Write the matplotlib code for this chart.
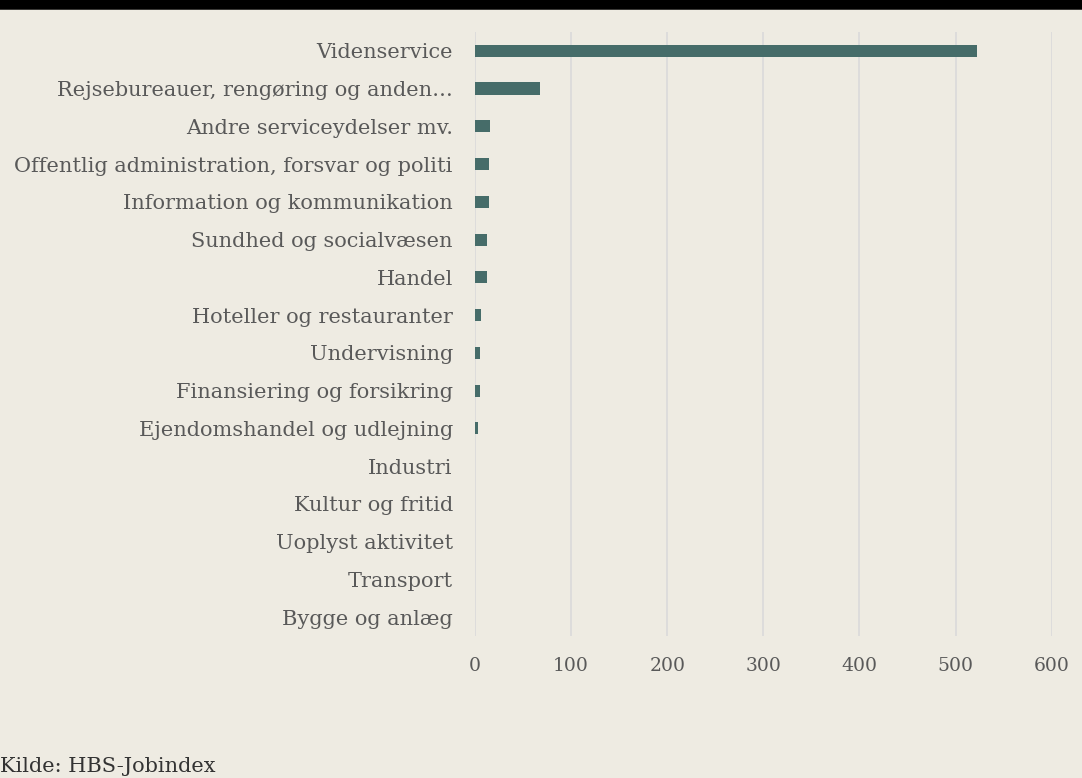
import numpy as np
from matplotlib import pyplot as plt

# data
categories = ["Videnservice",
              "Rejsebureauer, rengøring og anden…",
              "Andre serviceydelser mv.",
              "Offentlig administration, forsvar og politi",
              "Information og kommunikation",
              "Sundhed og socialvæsen",
              "Handel",
              "Hoteller og restauranter",
              "Undervisning",
              "Finansiering og forsikring",
              "Ejendomshandel og udlejning",
              "Industri",
              "Kultur og fritid",
              "Uoplyst aktivitet",
              "Transport",
              "Bygge og anlæg"]
values = [522, 68, 15.5, 14.5, 14.5, 13, 13, 6, 5, 5, 3, 0.4, 0.3, 0.3, 0.3, 0.3]
xticks = [0, 100, 200, 300, 400, 500, 600]

bg = "#EEEBE2"
bar_color = "#466C69"
txt = "#595959"

fig = plt.figure(figsize=(10.82, 7.78), dpi=100, facecolor=bg)
ax = fig.add_axes([0.439, 0.1825, 0.533, 0.7765], facecolor=bg)

y = np.arange(len(categories))
ax.barh(y, values, height=0.32, color=bar_color, zorder=3)
ax.set_ylim(len(categories) - 0.5, -0.5)
ax.set_xlim(0, 600)
ax.set_xticks(xticks)
ax.set_yticks(y)
ax.set_yticklabels(categories, family="DejaVu Serif", fontsize=15, color=txt)
for lab in ax.get_xticklabels():
    lab.set_family("DejaVu Serif")
    lab.set_fontsize(13.5)
    lab.set_color(txt)
ax.tick_params(axis="both", length=0)
ax.tick_params(axis="y", pad=16)
ax.tick_params(axis="x", pad=15)
ax.grid(axis="x", color="#DADADA", linewidth=1.2, zorder=0)
for s in ax.spines.values():
    s.set_visible(False)

# top black border
fig.add_artist(plt.Line2D([0, 1], [0.996, 0.996], color="black", linewidth=9, transform=fig.transFigure))

fig.text(0.0, 0.008, "Kilde: HBS-Jobindex", family="DejaVu Serif", fontsize=15, color="#333333")

fig.savefig("out.png", dpi=100, facecolor=bg)
